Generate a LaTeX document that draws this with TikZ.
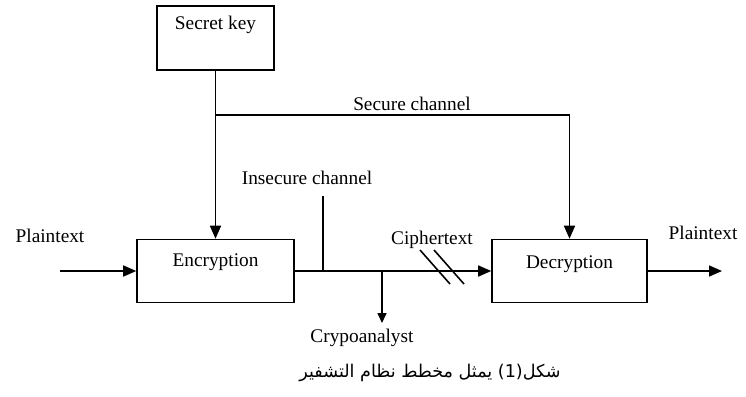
\documentclass[tikz,border=0pt]{standalone}
\usepackage{fontspec}
\setmainfont{Liberation Serif}
\newfontfamily\arabicfont[Script=Arabic]{DejaVu Sans}
\TeXXeTstate=1
\usetikzlibrary{arrows.meta,positioning,calc}
\tikzset{
 blockbox/.style={draw,line width=0.9pt,minimum width=3.14cm,minimum height=1.26cm,
  text height=0.25cm,inner sep=2pt},
 flow/.style={line width=0.9pt,-{Triangle[length=0.26cm,width=0.22cm]}},
 wire/.style={line width=0.9pt}
}
\begin{document}
\begin{tikzpicture}[x=0.02cm,y=-0.02cm,font=\fontsize{11}{13}\selectfont]
\useasboundingbox (0,0) rectangle (746,396);
\node[blockbox,minimum width=2.34cm,minimum height=1.28cm,text depth=0.6cm]
 (key) at (215.5,38) {Secret key};
\node[blockbox,text depth=0.43cm] (enc) at (215.5,271) {Encryption};
\node[blockbox,minimum width=3.1cm,text depth=0.37cm] (dec) at (569.5,271) {Decryption};
\coordinate (sc) at (215.5,115);
\coordinate (sr) at (569.5,115);
\coordinate (in) at (60,271);
\coordinate (out) at (722,271);
\coordinate (ins) at (323,271);
\coordinate (instop) at (323,196);
\coordinate (tap) at (382,271);
% labels
\node (ptin) at (50,236) {Plaintext};
\node (ptout) at (703,233) {Plaintext};
\node (seclbl) at (412,104) {Secure channel};
\node (inslbl) at (307,178) {Insecure channel};
\node (ciplbl) at (432,240) {Ciphertext};
\node (crypt) at (362,338) {Crypoanalyst};
\node (caption) at (430,373) {\arabicfont\fontsize{10}{12}\selectfont\beginR شكل(1) يمثل مخطط نظام التشفير\endR};
% connectors
\draw[flow] (key.south) -- (enc.north);
\draw[wire] (sc) -- (sr);
\draw[flow] (sr) -- (dec.north);
\draw[flow] (in) -- (enc.west);
\draw[flow] (enc.east) -- (dec.west);
\draw[flow] (dec.east) -- (out);
\draw[wire] (ins) -- (instop);
\draw[line width=0.9pt,-{Triangle[length=0.2cm,width=0.18cm]}] (tap) -- (tap |- crypt.north);
\draw[wire] (420,250) -- (450,284);
\draw[wire] (434,250) -- (464,284);
\end{tikzpicture}
\end{document}
